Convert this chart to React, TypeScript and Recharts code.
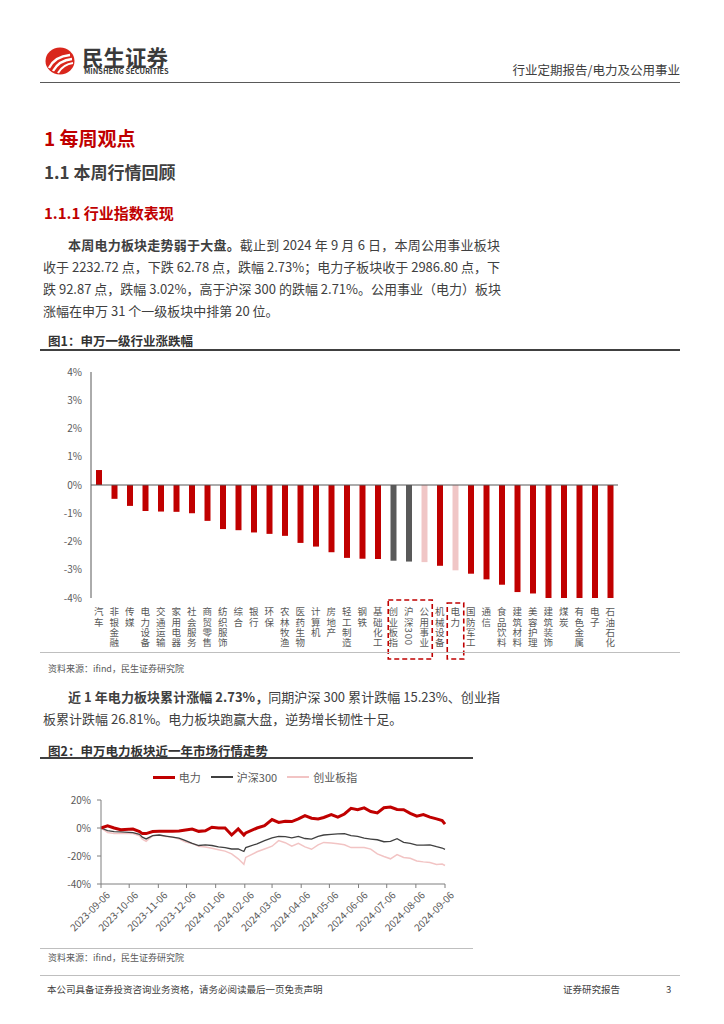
import React from 'react';
import { BarChart, Bar, Cell, XAxis, YAxis, ReferenceLine, LineChart, Line, Legend } from 'recharts';

const FONT = '"Noto Sans CJK SC", "Noto Sans", sans-serif';

// 图1：申万一级行业涨跌幅（本周，%）
const industries = [
  '汽车', '非银金融', '传媒', '电力设备', '交通运输', '家用电器', '社会服务', '商贸零售', '纺织服饰', '综合',
  '银行', '环保', '农林牧渔', '医药生物', '计算机', '房地产', '轻工制造', '钢铁', '基础化工', '创业板指',
  '沪深300', '公用事业', '机械设备', '电力', '国防军工', '通信', '食品饮料', '建筑材料', '美容护理', '建筑装饰',
  '煤炭', '有色金属', '电子', '石油石化',
];
const weeklyChange = [
  0.53, -0.49, -0.74, -0.92, -0.94, -0.95, -1.0, -1.27, -1.56, -1.6,
  -1.68, -1.73, -1.8, -2.05, -2.18, -2.38, -2.58, -2.61, -2.62, -2.68,
  -2.71, -2.73, -2.86, -3.02, -3.14, -3.34, -3.53, -3.79, -3.84, -4.1,
  -4.2, -4.3, -4.5, -4.8,
];
const indexBars = ['创业板指', '沪深300'];
const sectorBars = ['公用事业', '电力'];
const pctTicks = [4, 3, 2, 1, 0, -1, -2, -3, -4];

// 图2：申万电力板块近一年市场行情走势（累计涨跌幅，%）
const sampleDates = [
  '2023-09-06', '2023-09-13', '2023-09-20', '2023-09-27', '2023-10-10', '2023-10-17', '2023-10-20', '2023-10-24',
  '2023-10-31', '2023-11-07', '2023-11-14', '2023-11-21', '2023-11-28', '2023-12-05', '2023-12-12', '2023-12-19',
  '2023-12-26', '2024-01-02', '2024-01-09', '2024-01-16', '2024-01-23', '2024-01-30', '2024-02-05', '2024-02-07',
  '2024-02-19', '2024-02-27', '2024-03-06', '2024-03-13', '2024-03-20', '2024-03-27', '2024-04-03', '2024-04-10',
  '2024-04-17', '2024-04-24', '2024-04-30', '2024-05-08', '2024-05-15', '2024-05-22', '2024-05-29', '2024-06-05',
  '2024-06-12', '2024-06-19', '2024-06-26', '2024-07-03', '2024-07-10', '2024-07-17', '2024-07-24', '2024-07-31',
  '2024-08-07', '2024-08-14', '2024-08-21', '2024-08-28', '2024-09-03', '2024-09-06',
];
const powerSeries = [
  0, 1.5, 0, -1.2, -0.8, -2.5, -4, -4, -2.5, -2.4,
  -2.4, -2.4, -2.2, -1.5, -0.8, -2.4, -2.0, 0.5, 0, 0,
  -5, -0.7, -5, -3.5, 0, 1.7, 6, 4, 4.8, 4.6,
  6.5, 8.9, 7, 6.5, 7.5, 9.5, 7.7, 10, 14, 13,
  14.4, 11.8, 10.8, 14.5, 15, 13.2, 13, 10.5, 8.4, 9.6,
  7.8, 6.5, 5.3, 2.73,
];
const hs300Series = [
  0, -1.8, -2.6, -2.8, -3.3, -4.5, -6.5, -7.8, -5.5, -5,
  -5.8, -6.5, -7.2, -9, -11, -12.5, -12, -12.5, -13.5, -14,
  -15, -15, -16.8, -14, -11.3, -9, -7, -6, -6.2, -7,
  -6, -7.5, -8, -6, -5, -4.5, -4.2, -4, -5.5, -6,
  -7.3, -7.9, -8.4, -9.8, -9.5, -7.6, -10.2, -11, -12.2, -12.2,
  -12, -13.3, -14.3, -15.23,
];
const chinextSeries = [
  0, -3.2, -4, -4, -4, -5.5, -8, -9.5, -5.5, -5,
  -6, -6.5, -7.8, -10, -11, -13, -13.5, -14.5, -15.5, -16.5,
  -18.5, -22, -26, -21, -17, -15, -13, -9, -10.5, -13,
  -11, -13.5, -15.2, -12, -10.3, -10.8, -11.2, -12, -14, -13.9,
  -13.9, -15.1, -18.5, -20.4, -22, -19, -21, -21.6, -23.5, -24.2,
  -24.7, -26, -25.8, -26.81,
];
const dateTicks = [
  '2023-09-06', '2023-10-06', '2023-11-06', '2023-12-06', '2024-01-06', '2024-02-06', '2024-03-06',
  '2024-04-06', '2024-05-06', '2024-06-06', '2024-07-06', '2024-08-06', '2024-09-06',
];
const trendTicks = [20, 0, -20, -40];
const trendLegend = [
  { key: 'power', name: '电力', color: '#C00000', width: 3 },
  { key: 'hs300', name: '沪深300', color: '#404040', width: 1.3 },
  { key: 'chinext', name: '创业板指', color: '#F2C4C4', width: 1.5 },
];

// 标注虚线框
const boxedGroups = [
  { names: ['创业板指', '沪深300', '公用事业'], padL: 5, padR: 8, top: -6 },
  { names: ['电力'], padL: 8, padR: 8.5, top: -3 },
];

const barData = industries.map((name, i) => ({ name, value: weeklyChange[i] }));
const BAR_PLOT_W = 527;
const step = BAR_PLOT_W / industries.length;

const parseDay = (s: string) => Date.UTC(+s.slice(0, 4), +s.slice(5, 7) - 1, +s.slice(8, 10));
const fmtDay = (t: number) => new Date(t).toISOString().slice(0, 10);
const trendData = sampleDates.map((d, i) => ({
  t: parseDay(d),
  power: powerSeries[i],
  hs300: hs300Series[i],
  chinext: chinextSeries[i],
}));
const dateTickValues = dateTicks.map(parseDay);

const barColor = (name: string) =>
  indexBars.includes(name) ? '#595959' : sectorBars.includes(name) ? '#F0C6C6' : '#C00000';

// 竖排标签，数字按竖排规则侧转
const VerticalTick = (props: any) => {
  const { x, y, payload } = props;
  const label: string = payload.value;
  const group = boxedGroups.find((g) => g.names[0] === label);
  return (
    <g>
      <text x={x} y={y + 1} textAnchor="start" fontSize={9.5} letterSpacing={0.8} fill="#595959"
        fontFamily={FONT} style={{ writingMode: 'vertical-rl' }}>{label}</text>
      {group && (
        <rect x={x - group.padL} y={y + group.top} width={(group.names.length - 1) * step + group.padL + group.padR}
          height={53 - group.top} fill="none" stroke="#C00000" strokeWidth={1.6} strokeDasharray="5 3" />
      )}
    </g>
  );
};

const DateTick = (props: any) => {
  const { x, y, payload } = props;
  const ax = x + 3;
  const ay = y - 1;
  return (
    <text x={ax} y={ay} transform={`rotate(-45 ${ax} ${ay})`} textAnchor="end" dominantBaseline="hanging"
      fontSize={10} fill="#595959" fontFamily={FONT}>{fmtDay(payload.value)}</text>
  );
};

const TrendLegend = () => (
  <div style={{ height: 33, display: 'flex', justifyContent: 'center', alignItems: 'flex-start', fontFamily: FONT }}>
    {trendLegend.map((s) => (
      <div key={s.key} style={{ display: 'flex', alignItems: 'center', height: 20, marginRight: 10 }}>
        <div style={{ width: 22, height: s.width, background: s.color }} />
        <span style={{ marginLeft: 4, fontSize: 11, lineHeight: '14px', color: '#595959' }}>{s.name}</span>
      </div>
    ))}
  </div>
);

const Txt = ({ x, y, size, color = '#404040', bold = false, width, justify = false, right, lh = 1.3, children }: any) => (
  <div
    style={{
      position: 'absolute', left: x, right, top: y - (size * lh) / 2, width, fontSize: size,
      lineHeight: `${size * lh}px`, fontWeight: bold ? 700 : 400, color, whiteSpace: 'nowrap',
      textAlign: justify ? 'justify' : undefined, textAlignLast: justify ? 'justify' : undefined,
    }}
  >
    {children}
  </div>
);

const Rule = ({ x, y, w, color = '#595959', h = 1 }: any) => (
  <div style={{ position: 'absolute', left: x, top: y, width: w, height: h, background: color }} />
);

const Logo = () => (
  <>
    <svg style={{ position: 'absolute', left: 45, top: 47 }} width={30} height={28} viewBox="0 0 30 28">
      <ellipse cx={15} cy={14} rx={14.5} ry={13.5} fill="#D9261C" />
      <path d="M4 21 C 8 13, 14 9, 25 8" stroke="#fff" strokeWidth={2.4} fill="none" />
      <path d="M8 24 C 12 17, 17 13, 27 12" stroke="#fff" strokeWidth={2.4} fill="none" />
      <path d="M13 26 C 16 21, 20 17, 28 16" stroke="#fff" strokeWidth={2.2} fill="none" />
    </svg>
    <Txt x={82} y={56.5} size={21.5} lh={1} bold color="#3a3a3a">民生证券</Txt>
    <Txt x={84} y={71} size={7.4} lh={1} bold color="#3a3a3a">MINSHENG SECURITIES</Txt>
  </>
);

export default function App() {
  return (
    <div style={{ position: 'absolute', left: 0, top: 0, width: 724, height: 1024, background: '#fff', fontFamily: FONT, overflow: 'hidden' }}>
      <Logo />
      <Txt right={44} y={70} size={12.5} color="#404040">行业定期报告/电力及公用事业</Txt>
      <Rule x={40} y={82} w={640} color="#595959" h={1.2} />

      <Txt x={44} y={138} size={19} bold color="#C00000">1 每周观点</Txt>
      <Txt x={44} y={172} size={17} bold color="#404040">1.1 本周行情回顾</Txt>
      <Txt x={44} y={213} size={15} bold color="#C00000">1.1.1 行业指数表现</Txt>

      <Txt x={68} y={245} size={13} width={432} justify>
        <b>本周电力板块走势弱于大盘。</b>截止到 2024 年 9 月 6 日，本周公用事业板块
      </Txt>
      <Txt x={43} y={267} size={13} width={457} justify>
        收于 2232.72 点，下跌 62.78 点，跌幅 2.73%；电力子板块收于 2986.80 点，下
      </Txt>
      <Txt x={43} y={289} size={13} width={457} justify>
        跌 92.87 点，跌幅 3.02%，高于沪深 300 的跌幅 2.71%。公用事业（电力）板块
      </Txt>
      <Txt x={43} y={311} size={13}>涨幅在申万 31 个一级板块中排第 20 位。</Txt>

      <Txt x={48} y={341} size={12.5} bold color="#333">图1：申万一级行业涨跌幅</Txt>
      <Rule x={40} y={349} w={640} color="#404040" h={1.5} />

      <div style={{ position: 'absolute', left: 40, top: 360 }}>
        <BarChart width={640} height={300} data={barData} margin={{ top: 12, right: 62, bottom: 0, left: 11 }}>
          <XAxis dataKey="name" height={62} interval={0} tickLine={false} axisLine={false}
            tick={(p: any) => <VerticalTick {...p} />} />
          <YAxis type="number" width={40} domain={[-4, 4]} ticks={pctTicks} interval={0} allowDataOverflow
            tickFormatter={(v: number) => `${v}%`} tick={{ fontSize: 10, fill: '#595959', fontFamily: FONT }}
            tickLine={false} tickMargin={3} axisLine={{ stroke: '#595959' }} />
          <ReferenceLine y={0} stroke="#595959" />
          <Bar dataKey="value" barSize={6} isAnimationActive={false}>
            {barData.map((d) => (
              <Cell key={d.name} fill={barColor(d.name)} />
            ))}
          </Bar>
        </BarChart>
      </div>

      <Rule x={40} y={652} w={640} color="#bfbfbf" h={1} />
      <Txt x={48} y={669} size={9} color="#595959">资料来源：ifind，民生证券研究院</Txt>

      <Txt x={68} y={697} size={13} width={432} justify>
        <b>近 1 年电力板块累计涨幅 2.73%，</b>同期沪深 300 累计跌幅 15.23%、创业指
      </Txt>
      <Txt x={43} y={719} size={13}>板累计跌幅 26.81%。电力板块跑赢大盘，逆势增长韧性十足。</Txt>

      <Txt x={48} y={751} size={12.5} bold color="#333">图2：申万电力板块近一年市场行情走势</Txt>
      <Rule x={40} y={757} w={433} color="#404040" h={1.5} />

      <div style={{ position: 'absolute', left: 40, top: 760 }}>
        <LineChart width={440} height={188} data={trendData} margin={{ top: 7, right: 35, bottom: 4, left: 11 }}>
          <Legend verticalAlign="top" content={() => <TrendLegend />} wrapperStyle={{ left: 0, width: 440, top: 7 }} />
          <XAxis dataKey="t" type="number" domain={[dateTickValues[0], dateTickValues[dateTickValues.length - 1]]}
            ticks={dateTickValues} interval={0} height={60} tickSize={4} tickLine={{ stroke: '#7f7f7f' }}
            axisLine={{ stroke: '#7f7f7f' }} tick={(p: any) => <DateTick {...p} />} />
          <YAxis type="number" domain={[-40, 20]} ticks={trendTicks} interval={0} width={50} tickSize={4}
            tickMargin={6} tickFormatter={(v: number) => `${v}%`} tickLine={{ stroke: '#7f7f7f' }}
            axisLine={{ stroke: '#7f7f7f' }} tick={{ fontSize: 10, fill: '#595959', fontFamily: FONT }} />
          <Line type="linear" dataKey="chinext" stroke="#F2C4C4" strokeWidth={1.5} dot={false} isAnimationActive={false} />
          <Line type="linear" dataKey="hs300" stroke="#404040" strokeWidth={1.3} dot={false} isAnimationActive={false} />
          <Line type="linear" dataKey="power" stroke="#C00000" strokeWidth={3} dot={false} isAnimationActive={false} />
        </LineChart>
      </div>

      <Rule x={40} y={948} w={433} color="#bfbfbf" h={1} />
      <Txt x={48} y={958} size={9} color="#595959">资料来源：ifind，民生证券研究院</Txt>

      <Rule x={40} y={975} w={640} color="#bfbfbf" h={1} />
      <Txt x={47} y={989} size={9.5} color="#404040">本公司具备证券投资咨询业务资格，请务必阅读最后一页免责声明</Txt>
      <Txt x={563} y={989} size={9.5} color="#404040">证券研究报告</Txt>
      <Txt x={666} y={989} size={9.5} color="#404040">3</Txt>
    </div>
  );
}
